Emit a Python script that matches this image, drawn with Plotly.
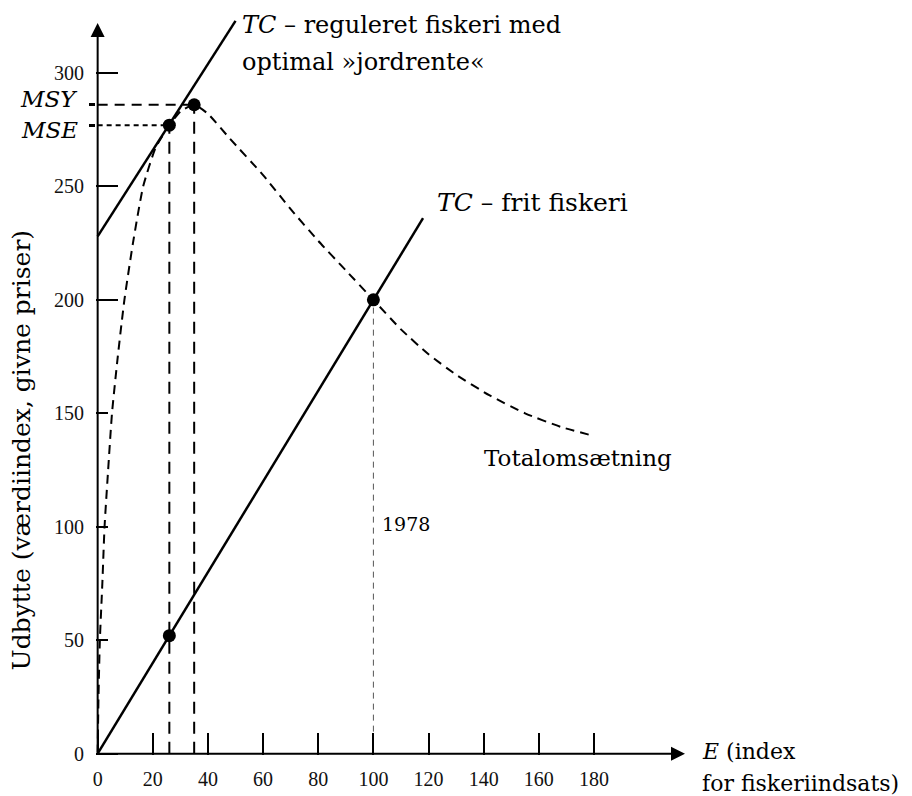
import plotly.graph_objects as go

# ---- data ----
revenue_E = [0, 0.3, 0.8, 1.7, 2.5, 3.8, 5.2, 7.3, 9.7, 12.8, 16.5, 21, 26, 30, 35,
             40, 48, 60, 70, 80, 90, 100, 110, 120, 130, 142, 155, 168, 180]
revenue = [0, 25, 50, 75, 100, 125, 150, 175, 200, 225, 250, 267, 277, 283, 286,
           282, 271, 255, 240, 226, 213, 200, 187, 176, 167, 158, 150, 144, 140]

tc_free_E = [0, 118]
tc_free = [0, 236]
tc_reg_E = [0, 50]
tc_reg = [228, 323]

MSY_E, MSY = 35, 286
MSE_E, MSE = 26, 277
MSE_cost = 52
OA_E, OA = 100, 200   # 1978 (open access)

x_ticks = [0, 20, 40, 60, 80, 100, 120, 140, 160, 180]
y_ticks_long = [0, 200, 250, 300]
y_ticks_short = [50, 100, 150]
y_special = [MSY, MSE]
y_special_text = ["<i>MSY</i>", "<i>MSE</i>"]

X_MIN, X_MAX = -0.6, 213
Y_MIN, Y_MAX = -0.6, 326
Y_ARROW = 322

# ---- layout geometry (pixels) ----
OFF = 8                    # page body margin
FIG_W, FIG_H = 904, 788
PX_X, PX_Y = 2.756, 2.27   # pixels per data unit
X0_PIX, Y0_PIX = 98, 754   # page pixel of the origin
W = (X_MAX - X_MIN) * PX_X
H = (Y_MAX - Y_MIN) * PX_Y
left_pix = X0_PIX + X_MIN * PX_X
bottom_pix = Y0_PIX - Y_MIN * PX_Y
m_l = left_pix - OFF
m_b = FIG_H - (bottom_pix - OFF)
m_r = FIG_W - m_l - W
m_t = FIG_H - m_b - H


def px_to_paper(px, py):
    return (px - left_pix) / W, (bottom_pix - py) / H


TXT = dict(family="DejaVu Serif", size=23, color="black")
TICK = dict(family="Liberation Serif", size=20, color="#111")

fig = go.Figure()

fig.add_trace(go.Scatter(x=revenue_E, y=revenue, mode="lines",
                         line=dict(color="black", width=2, dash="9px,6px", shape="spline", smoothing=0.5),
                         showlegend=False, hoverinfo="skip"))
fig.add_trace(go.Scatter(x=tc_free_E, y=tc_free, mode="lines",
                         line=dict(color="black", width=2.5), showlegend=False, hoverinfo="skip"))
fig.add_trace(go.Scatter(x=tc_reg_E, y=tc_reg, mode="lines",
                         line=dict(color="black", width=2.5), showlegend=False, hoverinfo="skip"))
fig.add_trace(go.Scatter(x=[MSE_E, MSE_E], y=[0, MSE], mode="lines",
                         line=dict(color="black", width=2, dash="12px,8px"), showlegend=False, hoverinfo="skip"))
fig.add_trace(go.Scatter(x=[MSY_E, MSY_E], y=[0, MSY], mode="lines",
                         line=dict(color="black", width=2, dash="12px,8px"), showlegend=False, hoverinfo="skip"))
fig.add_trace(go.Scatter(x=[OA_E, OA_E], y=[0, OA], mode="lines",
                         line=dict(color="#555", width=1, dash="6px,5px"), showlegend=False, hoverinfo="skip"))
fig.add_trace(go.Scatter(x=[0, MSY_E], y=[MSY, MSY], mode="lines",
                         line=dict(color="black", width=2, dash="10px,7px"), showlegend=False, hoverinfo="skip"))
fig.add_trace(go.Scatter(x=[0, MSE_E], y=[MSE, MSE], mode="lines",
                         line=dict(color="black", width=2, dash="5px,4px"), showlegend=False, hoverinfo="skip"))
fig.add_trace(go.Scatter(x=[MSE_E, MSY_E, MSE_E, OA_E], y=[MSE, MSY, MSE_cost, OA], mode="markers",
                         marker=dict(color="black", size=13), showlegend=False, hoverinfo="skip",
                         cliponaxis=False))
fig.add_trace(go.Scatter(x=[0], y=[0], yaxis="y2", mode="markers", marker=dict(opacity=0),
                         showlegend=False, hoverinfo="skip"))
fig.add_trace(go.Scatter(x=[0], y=[0], yaxis="y3", mode="markers", marker=dict(opacity=0),
                         showlegend=False, hoverinfo="skip"))

ann = []
# axis arrows
ann.append(dict(x=0, y=Y_ARROW, ax=0, ay=0, xref="x", yref="y", axref="x", ayref="y",
                showarrow=True, arrowhead=2, arrowsize=1.4, arrowwidth=2, arrowcolor="black", text=""))
ann.append(dict(x=X_MAX, y=0, ax=0, ay=0, xref="x", yref="y", axref="x", ayref="y",
                showarrow=True, arrowhead=2, arrowsize=1.4, arrowwidth=2, arrowcolor="black", text=""))
# MSY / MSE labels next to their y-axis ticks
for val, txt, shift in zip(y_special, y_special_text, [6, -5]):
    ann.append(dict(x=0, y=val, xref="x", yref="y", text=txt, showarrow=False,
                    xanchor="right", yanchor="middle", xshift=-18, yshift=shift,
                    font=dict(family="DejaVu Serif", size=23, color="black")))
# curve labels
ann.append(dict(x=51.5, y=321, xref="x", yref="y", text="<i>TC</i> – reguleret fiskeri med",
                showarrow=False, xanchor="left", yanchor="middle", font=dict(TXT, size=24)))
ann.append(dict(x=51.5, y=305, xref="x", yref="y", text="optimal »jordrente«",
                showarrow=False, xanchor="left", yanchor="middle", font=dict(TXT, size=24)))
ann.append(dict(x=122.3, y=242.7, xref="x", yref="y", text="<i>TC</i> – frit fiskeri",
                showarrow=False, xanchor="left", yanchor="middle", font=dict(TXT, size=25)))
ann.append(dict(x=139.5, y=130.4, xref="x", yref="y", text="Totalomsætning",
                showarrow=False, xanchor="left", yanchor="middle", font=TXT))
ann.append(dict(x=102.3, y=101.3, xref="x", yref="y", text="1978",
                showarrow=False, xanchor="left", yanchor="middle",
                font=dict(family="DejaVu Serif", size=19, color="black")))
# x-axis title (two lines, right of the arrow)
ex, ey = px_to_paper(700, 752)
ann.append(dict(x=ex, y=ey, xref="paper", yref="paper", text="<i>E</i> (index",
                showarrow=False, xanchor="left", yanchor="middle", font=dict(TXT, size=22)))
ex2, ey2 = px_to_paper(700, 784)
ann.append(dict(x=ex2, y=ey2, xref="paper", yref="paper", text="for fiskeriindsats)",
                showarrow=False, xanchor="left", yanchor="middle", font=dict(TXT, size=22)))
# y-axis title
tx, ty = px_to_paper(22, 450)
ann.append(dict(x=tx, y=ty, xref="paper", yref="paper",
                text="Udbytte (værdiindex, givne priser)", textangle=-90,
                showarrow=False, xanchor="center", yanchor="middle",
                font=dict(family="DejaVu Serif", size=25, color="black")))

fig.update_layout(
    width=FIG_W, height=FIG_H,
    margin=dict(l=m_l, r=m_r, t=m_t, b=m_b, autoexpand=False),
    paper_bgcolor="white", plot_bgcolor="white",
    showlegend=False,
    annotations=ann,
    xaxis=dict(range=[X_MIN, X_MAX], showgrid=False, zeroline=False, showline=False,
               tickvals=x_ticks, ticktext=[str(v) for v in x_ticks],
               ticks="inside", ticklen=22, tickwidth=2, tickcolor="black",
               tickfont=TICK, ticklabelstandoff=10),
    yaxis=dict(range=[Y_MIN, Y_MAX], showgrid=False, zeroline=False, showline=False,
               tickvals=y_ticks_long, ticktext=[str(v) for v in y_ticks_long],
               ticks="inside", ticklen=22, tickwidth=2, tickcolor="black",
               tickfont=TICK, ticklabelstandoff=11),
    yaxis2=dict(range=[Y_MIN, Y_MAX], overlaying="y", side="left", anchor="x",
                showgrid=False, zeroline=False, showline=False,
                tickvals=y_ticks_short, ticktext=[str(v) for v in y_ticks_short],
                ticks="inside", ticklen=12, tickwidth=2, tickcolor="black",
                tickfont=TICK, ticklabelstandoff=11),
    yaxis3=dict(range=[Y_MIN, Y_MAX], overlaying="y", side="left", anchor="x",
                showgrid=False, zeroline=False, showline=False,
                tickvals=y_special, showticklabels=False,
                ticks="outside", ticklen=6, tickwidth=3, tickcolor="black"),
)

fig.write_html("out.html")
